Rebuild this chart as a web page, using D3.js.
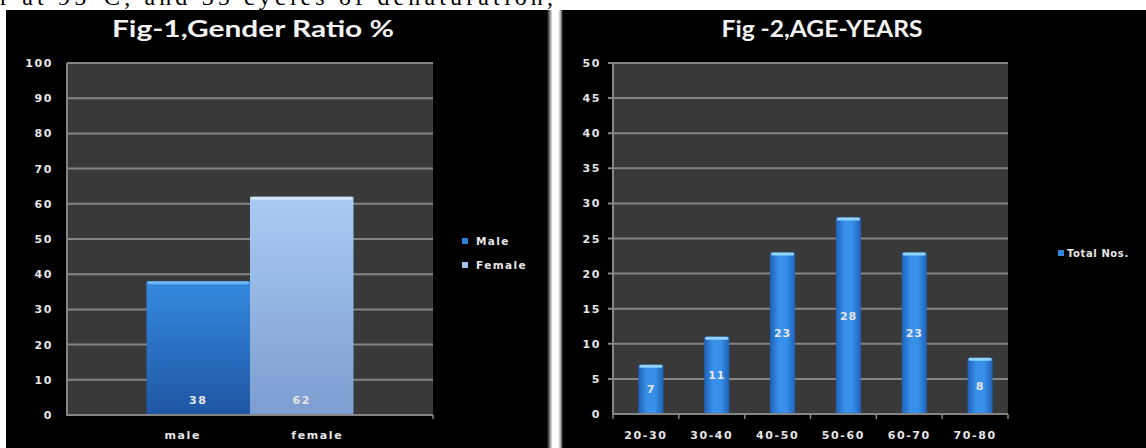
<!DOCTYPE html>
<html>
<head>
<meta charset="utf-8">
<script src="https://cdn.jsdelivr.net/npm/d3@7"></script>
<style>
  html, body { margin: 0; padding: 0; background: #fff; }
  svg { display: block; }
  text { font-family: "DejaVu Sans", sans-serif; font-weight: bold; }
</style>
</head>
<body>
<svg id="chart" width="1146" height="448"></svg>
<script>
// ── Data ──────────────────────────────────────────────────────────────────────
const genderSeries = ['Male', 'Female'];
const genderValues = [38, 62];
const genderAxisLabels = ['male', 'female'];
const genderTicks = [0, 10, 20, 30, 40, 50, 60, 70, 80, 90, 100];

const ageGroups = ['20-30', '30-40', '40-50', '50-60', '60-70', '70-80'];
const ageCounts = [7, 11, 23, 28, 23, 8];
const ageTicks = [0, 5, 10, 15, 20, 25, 30, 35, 40, 45, 50];
const ageSeries = ['Total Nos.'];

// ── Styles ────────────────────────────────────────────────────────────────────
const PLOT_BG = '#393939';
const GRID = '#858585';
const LABEL = '#e6e6e6';

const svg = d3.select('#chart');
const defs = svg.append('defs');

function vGrad(id, top, bottom) {
    const g = defs.append('linearGradient').attr('id', id)
        .attr('x1', 0).attr('y1', 0).attr('x2', 0).attr('y2', 1);
    g.append('stop').attr('offset', '0%').attr('stop-color', top);
    g.append('stop').attr('offset', '100%').attr('stop-color', bottom);
}
function hGrad(id, edge, mid) {
    const g = defs.append('linearGradient').attr('id', id)
        .attr('x1', 0).attr('y1', 0).attr('x2', 1).attr('y2', 0);
    g.append('stop').attr('offset', '0%').attr('stop-color', edge);
    g.append('stop').attr('offset', '35%').attr('stop-color', mid);
    g.append('stop').attr('offset', '65%').attr('stop-color', mid);
    g.append('stop').attr('offset', '100%').attr('stop-color', edge);
}
vGrad('g-male', '#3489e0', '#1f56a3');
vGrad('g-female', '#a9cbf3', '#7c9dd0');
hGrad('g-age', '#1f62b8', '#3790ea');
const SERIES_FILL = { Male: 'url(#g-male)', Female: 'url(#g-female)' };
const SERIES_SWATCH = { Male: '#2f7fd6', Female: '#a4c4ee' };

// ── Page fragment above the charts ───────────────────────────────────────────
svg.append('text')
    .attr('x', 0).attr('y', 5)
    .attr('textLength', 553).attr('lengthAdjust', 'spacing')
    .style('font-family', '"Liberation Serif", serif')
    .style('font-weight', 'normal')
    .style('font-size', '24px')
    .attr('fill', '#000')
    .text('r at 95°C, and 35 cycles of denaturation,');

// Panels
svg.append('rect').attr('x', 6).attr('y', 10).attr('width', 541).attr('height', 438).attr('fill', '#000');
svg.append('rect').attr('x', 563).attr('y', 10).attr('width', 583).attr('height', 438).attr('fill', '#000');
const sep = defs.append('linearGradient').attr('id', 'g-sep');
[['0%', '#000'], ['20%', '#999'], ['35%', '#fff'], ['70%', '#fff'], ['85%', '#aaa'], ['100%', '#000']]
    .forEach(([o, c]) => sep.append('stop').attr('offset', o).attr('stop-color', c));
svg.append('rect').attr('x', 547).attr('y', 10).attr('width', 16).attr('height', 438).attr('fill', 'url(#g-sep)');

function title(cx, txt, len) {
    svg.append('text')
        .attr('x', cx - len / 2).attr('y', 37)
        .attr('textLength', len).attr('lengthAdjust', 'spacingAndGlyphs')
        .style('font-family', 'Lato, "Open Sans", sans-serif')
        .style('font-size', '22px')
        .attr('fill', '#f2f2f2')
        .text(txt);
}

function smallText(sel, size, ls) {
    return sel.style('font-size', (size || 11) + 'px')
        .style('letter-spacing', (ls == null ? 1.6 : ls) + 'px')
        .attr('fill', LABEL);
}

// ── Fig-1 Gender ratio ───────────────────────────────────────────────────────
(function genderChart() {
    const L = 67, R = 433, T = 63, B = 415;
    title(253, 'Fig-1,Gender Ratio %', 282);

    const y = d3.scaleLinear().domain([0, 100]).range([B, T]);
    const x = d3.scaleBand().domain(genderSeries).range([L, R])
        .paddingInner(0).paddingOuter(0.768);
    const xl = d3.scaleBand().domain(genderAxisLabels).range([L, R])
        .paddingInner(0).paddingOuter(0.36);

    svg.append('rect').attr('x', L).attr('y', T).attr('width', R - L).attr('height', B - T).attr('fill', PLOT_BG);

    svg.append('g').selectAll('line').data(genderTicks.slice(1)).join('line')
        .attr('x1', L).attr('x2', R).attr('y1', d => y(d)).attr('y2', d => y(d))
        .attr('stroke', GRID).attr('stroke-width', 2);

    smallText(svg.append('g').selectAll('text').data(genderTicks).join('text'))
        .attr('x', 53).attr('y', d => y(d) + 4)
        .attr('text-anchor', 'end')
        .text(d => d);

    svg.append('g').selectAll('rect').data(genderSeries).join('rect')
        .attr('x', d => x(d)).attr('width', x.bandwidth())
        .attr('y', (d, i) => y(genderValues[i]))
        .attr('height', (d, i) => B - y(genderValues[i]))
        .attr('fill', d => SERIES_FILL[d]);
    // top highlight
    svg.append('g').selectAll('rect').data(genderSeries).join('rect')
        .attr('x', d => x(d) + 1).attr('width', x.bandwidth() - 2)
        .attr('y', (d, i) => y(genderValues[i])).attr('height', 3).attr('rx', 1.5)
        .attr('fill', (d, i) => i === 0 ? '#6fb8f5' : '#d4e6fb');

    smallText(svg.append('g').selectAll('text').data(genderSeries).join('text'))
        .attr('x', d => x(d) + x.bandwidth() / 2).attr('y', 404)
        .attr('text-anchor', 'middle')
        .text((d, i) => genderValues[i]);

    // axes lines
    svg.append('line').attr('x1', L).attr('x2', L).attr('y1', T).attr('y2', B + 1).attr('stroke', GRID).attr('stroke-width', 2);
    svg.append('line').attr('x1', L).attr('x2', R).attr('y1', B).attr('y2', B).attr('stroke', GRID).attr('stroke-width', 2);
    svg.append('line').attr('x1', R).attr('x2', R).attr('y1', B).attr('y2', B + 4).attr('stroke', GRID).attr('stroke-width', 1.5);

    smallText(svg.append('g').selectAll('text').data(genderAxisLabels).join('text'))
        .attr('x', d => xl(d) + xl.bandwidth() / 2).attr('y', 439)
        .attr('text-anchor', 'middle')
        .text(d => d);

    // legend
    const lg = svg.append('g').selectAll('g').data(genderSeries).join('g')
        .attr('transform', (d, i) => `translate(462,${241 + i * 24})`);
    lg.append('rect').attr('x', 0).attr('y', -3).attr('width', 6).attr('height', 6)
        .attr('fill', d => SERIES_SWATCH[d]);
    smallText(lg.append('text'), 10.5, 1.4).attr('x', 14).attr('y', 4).text(d => d);
})();

// ── Fig-2 Age years ──────────────────────────────────────────────────────────
(function ageChart() {
    const L = 613, R = 1008, T = 63, B = 414;
    title(822, 'Fig -2,AGE-YEARS', 201);

    const y = d3.scaleLinear().domain([0, 50]).range([B, T]);
    const x = d3.scaleBand().domain(ageGroups).range([L, R]);
    const xb = d3.scaleBand().domain(ageGroups).range([L + 5, R + 5])
        .paddingInner(0.62).paddingOuter(0.31);

    svg.append('rect').attr('x', L).attr('y', T).attr('width', R - L).attr('height', B - T).attr('fill', PLOT_BG);

    svg.append('g').selectAll('line').data(ageTicks.slice(1)).join('line')
        .attr('x1', L - 5).attr('x2', R).attr('y1', d => y(d)).attr('y2', d => y(d))
        .attr('stroke', GRID).attr('stroke-width', 2);

    smallText(svg.append('g').selectAll('text').data(ageTicks).join('text'))
        .attr('x', 601).attr('y', d => y(d) + 4)
        .attr('text-anchor', 'end')
        .text(d => d);

    svg.append('g').selectAll('rect').data(ageGroups).join('rect')
        .attr('x', d => xb(d)).attr('width', xb.bandwidth())
        .attr('y', (d, i) => y(ageCounts[i]))
        .attr('height', (d, i) => B - y(ageCounts[i]))
        .attr('fill', 'url(#g-age)');
    svg.append('g').selectAll('rect').data(ageGroups).join('rect')
        .attr('x', d => xb(d) + 1).attr('width', xb.bandwidth() - 2)
        .attr('y', (d, i) => y(ageCounts[i])).attr('height', 3).attr('rx', 1.5)
        .attr('fill', '#8fd4ff');

    smallText(svg.append('g').selectAll('text').data(ageGroups).join('text'), 11, 0.8)
        .attr('x', d => xb(d) + xb.bandwidth() / 2)
        .attr('y', (d, i) => y(ageCounts[i] / 2) + 4)
        .attr('text-anchor', 'middle')
        .text((d, i) => ageCounts[i]);

    svg.append('line').attr('x1', L).attr('x2', L).attr('y1', T).attr('y2', B + 1).attr('stroke', GRID).attr('stroke-width', 2);

    const xAxis = svg.append('g')
        .attr('transform', `translate(0,${B})`)
        .call(d3.axisBottom(x).tickSize(0).tickFormat(''));
    xAxis.select('.domain').attr('stroke', GRID).attr('stroke-width', 2).attr('d', `M${L},0H${R}`);
    svg.append('g').selectAll('line').data(d3.range(ageGroups.length + 1)).join('line')
        .attr('x1', i => L + i * x.step()).attr('x2', i => L + i * x.step())
        .attr('y1', B).attr('y2', B + 5)
        .attr('stroke', GRID).attr('stroke-width', 1.5);

    smallText(svg.append('g').selectAll('text').data(ageGroups).join('text'))
        .attr('x', d => x(d) + x.bandwidth() / 2).attr('y', 439)
        .attr('text-anchor', 'middle')
        .text(d => d);

    // legend
    const lg = svg.append('g').attr('transform', 'translate(1058,253)');
    lg.append('rect').attr('x', 0).attr('y', -3).attr('width', 6).attr('height', 6).attr('fill', '#2f87e0');
    smallText(lg.append('text'), 10, 0.6).attr('x', 9).attr('y', 4).text(ageSeries[0]);
})();
</script>
</body>
</html>
